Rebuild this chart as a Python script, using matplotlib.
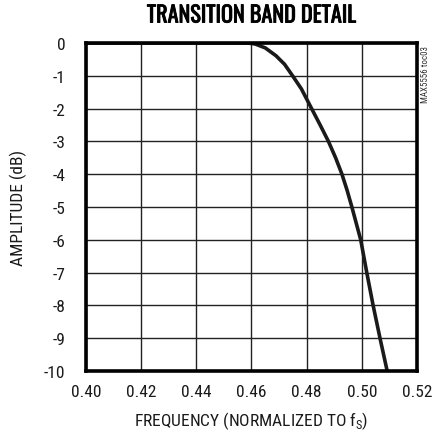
import matplotlib
matplotlib.use('Agg')
import matplotlib.pyplot as plt
import matplotlib.patheffects as pe

# Transition band response
freq = [0.400, 0.440, 0.455, 0.4590, 0.4613, 0.4650, 0.4689, 0.4720, 0.4749,
        0.4781, 0.4818, 0.4849, 0.4879, 0.4905, 0.4928, 0.4947,
        0.4964, 0.4980, 0.4996, 0.5018, 0.5041, 0.5066, 0.5092]
amp_db = [0.0, 0.0, 0.0, -0.005, -0.03, -0.15, -0.39, -0.65, -1.0,
          -1.4, -2.0, -2.5, -3.0, -3.5, -4.0, -4.5,
          -5.0, -5.5, -6.0, -7.0, -8.0, -9.0, -10.0]

x_ticks = [0.40, 0.42, 0.44, 0.46, 0.48, 0.50, 0.52]
y_ticks = [0, -1, -2, -3, -4, -5, -6, -7, -8, -9, -10]

plt.rcParams['font.family'] = ['Roboto Condensed', 'DejaVu Sans']
plt.rcParams['mathtext.fontset'] = 'custom'
plt.rcParams['mathtext.rm'] = 'Roboto Condensed'

fig = plt.figure(figsize=(4.38, 4.35), dpi=100)
ax = fig.add_axes([0.1963, 0.1448, 0.7557, 0.7541])

ax.plot(freq, amp_db, color='#1a1a1a', lw=2.6, solid_capstyle='butt',
        solid_joinstyle='round')

ax.set_xlim(0.40, 0.52)
ax.set_ylim(-10, 0)
ax.set_xticks(x_ticks)
ax.set_xticklabels(['%.2f' % t for t in x_ticks])
ax.set_yticks(y_ticks)
ax.set_yticklabels([str(t) for t in y_ticks])
ax.tick_params(length=0, labelsize=12.5, colors='#1a1a1a')
ax.tick_params(axis='y', pad=15)
ax.tick_params(axis='x', pad=9)
ax.grid(True, color='#222222', lw=1.0)
for s in ax.spines.values():
    s.set_linewidth(2.6)
    s.set_color('black')

ax.set_xlabel('FREQUENCY (NORMALIZED TO f$_\\mathrm{S}$)', fontsize=12.5,
              labelpad=8, color='#1a1a1a')
ax.set_ylabel('AMPLITUDE (dB)', fontsize=12.5, labelpad=12, color='#1a1a1a')
# title is centred over the plot box, not the whole figure
fig.text(0.574, 0.962, 'TRANSITION BAND DETAIL', ha='center', va='center',
         fontsize=16, fontweight='bold', family=['Oswald', 'DejaVu Sans'],
         path_effects=[pe.withStroke(linewidth=0.6, foreground='black')])
fig.text(0.972, 0.895, 'MAX5556 toc03', rotation=90, ha='center', va='top',
         fontsize=6.5, color='#333333')

fig.savefig('out.png', dpi=100)
